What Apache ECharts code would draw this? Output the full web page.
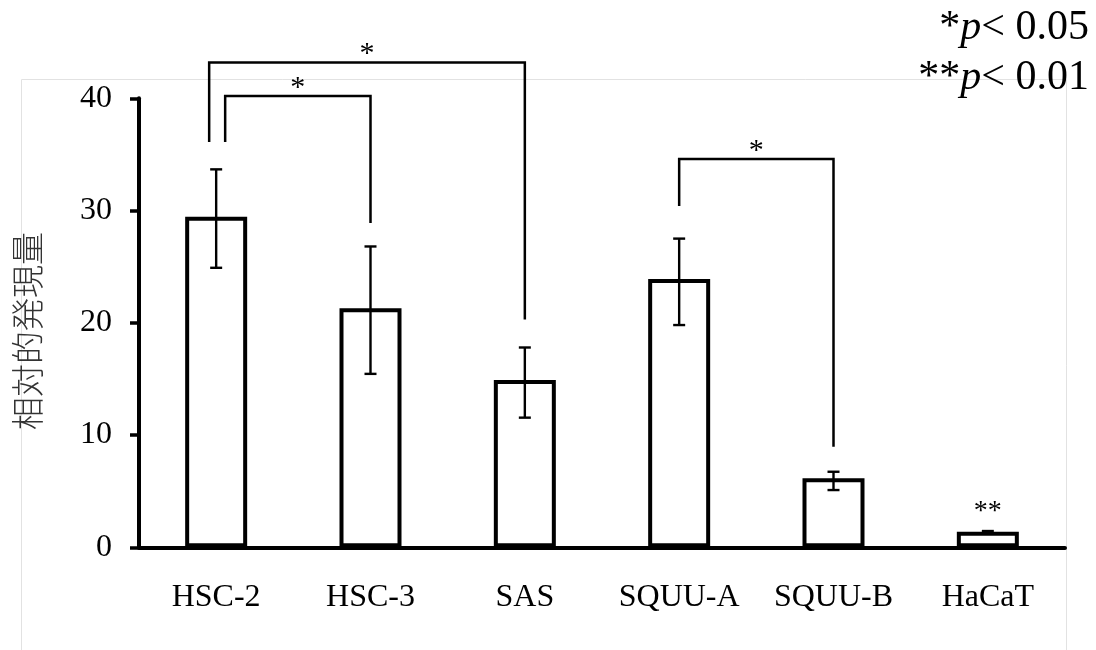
<!DOCTYPE html>
<html>
<head>
<meta charset="utf-8">
<script src="https://cdn.jsdelivr.net/npm/echarts@6/dist/echarts.min.js"></script>
<style>
  html, body { margin: 0; padding: 0; background: #fff; }
  #chart { width: 1096px; height: 650px; }
</style>
</head>
<body>
<div id="chart"></div>
<script>
// 細胞株ごとの相対的発現量
const cellLines = ['HSC-2', 'HSC-3', 'SAS', 'SQUU-A', 'SQUU-B', 'HaCaT']
const expression = [29.45, 21.3, 14.9, 23.9, 6.15, 1.39]
const errLow = [24.9, 15.45, 11.55, 19.8, 5.1, 1.2]
const errHigh = [33.67, 26.8, 17.8, 27.5, 6.73, 1.45]
const sigMarks = ['', '', '', '', '', '**']
const yTicks = [0, 10, 20, 30, 40]

// 有意差ブラケット: [左の株, 右の株, 左脚の下端, 横線の高さ, 右脚の下端]
const brackets = [
  [0, 2, 36.1, 43.2, 20.3],
  [0, 1, 36.1, 40.2, 28.9],
  [3, 4, 30.4, 34.6, 8.96]
]
const bracketStars = ['*', '*', '*']
// HSC-2 から出る2本の脚を少しずらす (px)
const legShift = [-7, 9, 0]

const serif = '"Liberation Serif", "Times New Roman", serif'

const chart = echarts.init(document.getElementById('chart'))

const option = {
  animation: false,
  backgroundColor: '#fff',
  grid: {left: 139, right: 31, top: 98.3, bottom: 102.7},
  xAxis: {
    type: 'category',
    data: cellLines,
    axisTick: {show: false},
    axisLine: {lineStyle: {color: '#000', width: 4}},
    axisLabel: {interval: 0, color: '#000', fontSize: 32, fontFamily: serif, margin: 34}
  },
  yAxis: {
    type: 'value',
    min: yTicks[0],
    max: yTicks[yTicks.length - 1],
    interval: 10,
    splitLine: {show: false},
    axisLine: {show: true, lineStyle: {color: '#000', width: 4}},
    axisTick: {show: true, length: 9, lineStyle: {color: '#000', width: 3.5}},
    axisLabel: {color: '#000', fontSize: 32, fontFamily: serif, margin: 27}
  },
  graphic: [
    {
      type: 'rect', z: -10, silent: true,
      shape: {x: 21.5, y: 79.5, width: 1045, height: 600},
      style: {fill: 'none', stroke: '#e2e2e2', lineWidth: 1}
    },
    {
      type: 'text', x: 27, y: 331, rotation: Math.PI / 2,
      style: {
        text: '相対的発現量',
        font: '300 33px "Noto Sans CJK JP"',
        fill: '#333', align: 'center', verticalAlign: 'middle'
      }
    },
    {
      type: 'text', x: 1089, y: 28,
      style: {
        text: '{n|*}{i|p}{n|< 0.05}',
        align: 'right', verticalAlign: 'middle',
        rich: {
          n: {fontSize: 42, fontFamily: serif, fill: '#000'},
          i: {fontSize: 42, fontFamily: serif, fontStyle: 'italic', fill: '#000'}
        }
      }
    },
    {
      type: 'text', x: 1089, y: 78,
      style: {
        text: '{n|**}{i|p}{n|< 0.01}',
        align: 'right', verticalAlign: 'middle',
        rich: {
          n: {fontSize: 42, fontFamily: serif, fill: '#000'},
          i: {fontSize: 42, fontFamily: serif, fontStyle: 'italic', fill: '#000'}
        }
      }
    }
  ],
  series: [
    {
      name: '発現量',
      type: 'bar',
      barWidth: 62,
      itemStyle: {color: '#fff', borderColor: '#000', borderWidth: 4},
      data: expression.map((v, i) => ({
        value: v,
        label: {
          show: !!sigMarks[i],
          formatter: sigMarks[i],
          position: 'top',
          distance: 6,
          color: '#000',
          fontSize: 28,
          fontFamily: serif
        }
      }))
    },
    {
      name: 'エラーバー',
      type: 'custom',
      z: 5,
      data: cellLines.map((c, i) => [i, errLow[i], errHigh[i]]),
      encode: {x: 0, y: [1, 2]},
      renderItem: (params, api) => {
        const lo = api.coord([api.value(0), api.value(1)])
        const hi = api.coord([api.value(0), api.value(2)])
        const w = 6
        const style = {stroke: '#000', lineWidth: 2.4}
        return {
          type: 'group',
          children: [
            {type: 'line', shape: {x1: lo[0], y1: lo[1], x2: hi[0], y2: hi[1]}, style},
            {type: 'line', shape: {x1: hi[0] - w, y1: hi[1], x2: hi[0] + w, y2: hi[1]}, style},
            {type: 'line', shape: {x1: lo[0] - w, y1: lo[1], x2: lo[0] + w, y2: lo[1]}, style}
          ]
        }
      }
    },
    {
      name: '有意差',
      type: 'custom',
      clip: false,
      z: 6,
      data: brackets,
      encode: {x: [0, 1], y: [2, 3, 4]},
      renderItem: (params, api) => {
        const i = params.dataIndex
        const a = api.coord([api.value(0), api.value(2)])
        const top = api.coord([api.value(0), api.value(3)])
        const b = api.coord([api.value(1), api.value(4)])
        const xl = a[0] + legShift[i]
        const xr = b[0]
        const style = {stroke: '#000', lineWidth: 2.5, fill: 'none'}
        return {
          type: 'group',
          children: [
            {
              type: 'polyline',
              shape: {points: [[xl, a[1]], [xl, top[1]], [xr, top[1]], [xr, b[1]]]},
              style
            },
            {
              type: 'text',
              x: (xl + xr) / 2, y: top[1] - 8,
              style: {
                text: bracketStars[i], font: '30px ' + serif,
                fill: '#000', align: 'center', verticalAlign: 'middle'
              }
            }
          ]
        }
      }
    }
  ]
}

chart.setOption(option)
</script>
</body>
</html>
